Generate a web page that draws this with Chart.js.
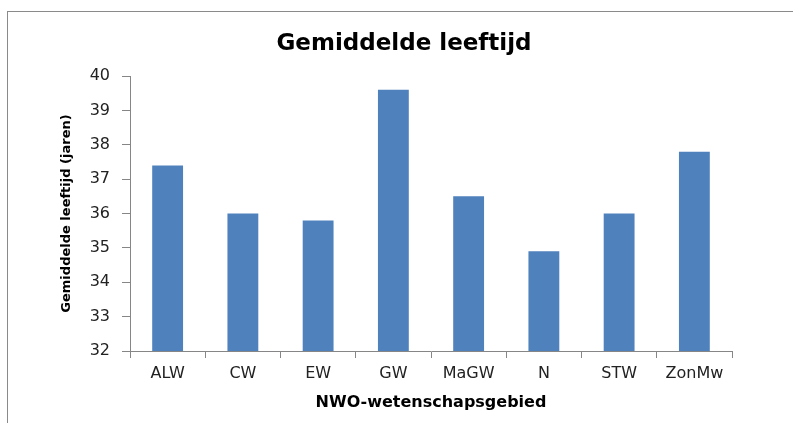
<!DOCTYPE html>
<html>
<head>
<meta charset="utf-8">
<script src="https://cdn.jsdelivr.net/npm/chart.js@4"></script>
<style>
  body { margin: 0; background: #fff; }
</style>
</head>
<body>
<canvas id="leeftijd" width="793" height="423"></canvas>
<script>
// Categorieen langs de x-as
var gebieden = ["ALW", "CW", "EW", "GW", "MaGW", "N", "STW", "ZonMw"];
// Gemiddelde leeftijd per gebied
var leeftijd = [37.4, 36.0, 35.8, 39.6, 36.5, 34.9, 36.0, 37.8];
var yMin = 32;
var yMax = 40;

var axisGrey = "#868686";

// grijze rand om de grafiek
var frame = {
  id: "frame",
  beforeDraw: function (chart) {
    var c = chart.ctx;
    c.save();
    c.fillStyle = "#fff";
    c.fillRect(0, 0, chart.width, chart.height);
    c.strokeStyle = "#8a8a8a";
    c.lineWidth = 1;
    c.strokeRect(7.5, 11.5, chart.width, chart.height);
    c.restore();
  }
};

var ctx = document.getElementById("leeftijd");
var myChart = new Chart(ctx, {
  type: "bar",
  data: {
    labels: gebieden,
    datasets: [
      {
        data: leeftijd,
        backgroundColor: "#4f81bd",
        barPercentage: 0.41,
        categoryPercentage: 1
      }
    ]
  },
  options: {
    responsive: false,
    animation: false,
    // links 76 zodat de titel boven het midden van het plotvlak staat
    layout: { padding: { left: 76, right: 61, top: 0, bottom: 0 } },
    plugins: {
      legend: { display: false },
      tooltip: { enabled: false },
      title: {
        display: true,
        text: "Gemiddelde leeftijd",
        color: "#000",
        font: { family: "DejaVu Sans", size: 23, weight: "bold" },
        padding: { top: 30, bottom: 18.4 }
      }
    },
    scales: {
      x: {
        afterFit: function (s) { s.height = 72; },
        grid: {
          offset: true,
          drawOnChartArea: false,
          drawTicks: true,
          tickLength: 7,
          color: axisGrey
        },
        border: { display: true, color: axisGrey },
        ticks: {
          color: "#222",
          padding: 6,
          font: { family: "DejaVu Sans", size: 16 }
        },
        title: {
          display: true,
          text: "NWO-wetenschapsgebied",
          color: "#000",
          font: { family: "DejaVu Sans", size: 16, weight: "bold" },
          padding: { top: 0, bottom: 11 }
        }
      },
      y: {
        min: yMin,
        max: yMax,
        afterFit: function (s) { s.width = 54; },
        grid: {
          drawOnChartArea: false,
          drawTicks: true,
          tickLength: 8,
          color: axisGrey
        },
        border: { display: true, color: axisGrey },
        ticks: {
          stepSize: 1,
          color: "#222",
          padding: 12,
          font: { family: "DejaVu Sans", size: 16 }
        },
        title: {
          display: true,
          text: "Gemiddelde leeftijd (jaren)",
          color: "#000",
          font: { family: "DejaVu Sans", size: 13, weight: "bold" },
          padding: { top: -17, bottom: 0 }
        }
      }
    }
  },
  plugins: [frame]
});
</script>
</body>
</html>
